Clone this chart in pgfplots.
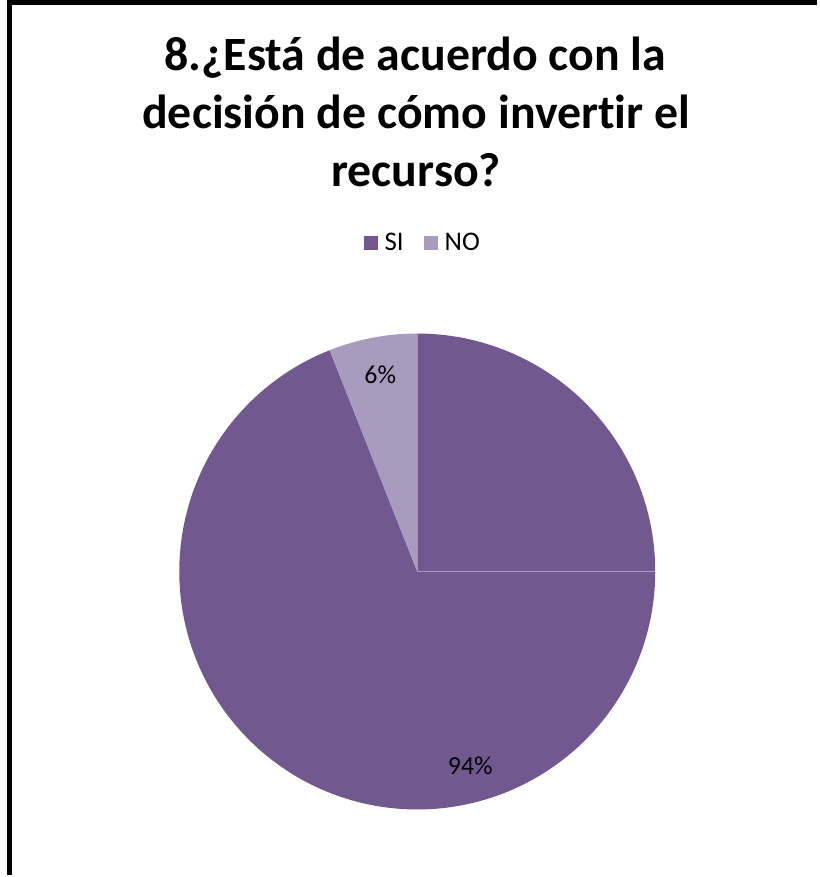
\documentclass[border=0pt]{standalone}
\usepackage{pgfplots}
\pgfplotsset{compat=1.18}
\usepackage{pgfplotstable}
\usepackage{fontspec}
\setmainfont{Carlito}[Ligatures=NoCommon]
\definecolor{cSI}{HTML}{71588F}
\definecolor{cNO}{HTML}{A99BBD}
\definecolor{cEdge}{HTML}{A99BC2}

% answers (percent)
\pgfplotstableread{
label value
SI 94
NO 6
}\piedata

\begin{document}
\pgfplotstablegetelem{0}{value}\of\piedata \let\vSI\pgfplotsretval
\pgfplotstablegetelem{1}{value}\of\piedata \let\vNO\pgfplotsretval
% slices start at 12 o'clock and run clockwise
\pgfmathsetmacro{\aA}{90}
\pgfmathsetmacro{\aB}{90-3.6*\vSI}
\pgfmathsetmacro{\aC}{\aB-3.6*\vNO}
\begin{tikzpicture}
	\begin{axis}[
		width=818bp, height=877bp,
		scale only axis,
		xmin=0, xmax=818, ymin=0, ymax=877,
		hide axis,
		clip=false,
		legend columns=2,
		legend style={
			at={(axis cs:423.5,631.5)}, anchor=center,
			draw=none, fill=none, inner sep=0pt,
			font=\fontsize{27}{30}\selectfont,
			/tikz/every even column/.append style={column sep=18bp},
			legend cell align=left,
		},
		legend image code/.code={
			\fill[#1] (0bp,-7bp) rectangle (14bp,7bp);
			\path (19bp,0bp);},
		]
		% frame (only left and top visible)
		\draw[line width=5bp, black] (10,0) -- (10,872) -- (818,872);

		% title, one node per line
		\begin{scope}[every node/.style={anchor=base, font=\bfseries\fontsize{48}{58}\selectfont}]
			\node at (axis cs:416,804) {8.¿Está de acuerdo con la};
			\node at (axis cs:417,746) {decisión de cómo invertir el};
			\node at (axis cs:417,688) {recurso?};
		\end{scope}

		\addplot[fill=cSI, draw=none, domain=\aA:\aB, samples=241]
			({418+238*cos(x)},{303+238*sin(x)}) -- (418,303) -- cycle;
		\addlegendentry{\fontsize{27}{30}\selectfont SI}
		\addplot[fill=cNO, draw=none, domain=\aB:\aC, samples=41]
			({418+238*cos(x)},{303+238*sin(x)}) -- (418,303) -- cycle;
		\addlegendentry{\fontsize{27}{30}\selectfont NO}

		\draw[cEdge, line width=1.2bp] (418,303) -- (656,303);

		\node[font=\fontsize{26}{28}\selectfont] at (axis cs:381,500) {6\%};
		\node[font=\fontsize{26}{28}\selectfont] at (axis cs:471,109) {94\%};
	\end{axis}
\end{tikzpicture}
\end{document}
